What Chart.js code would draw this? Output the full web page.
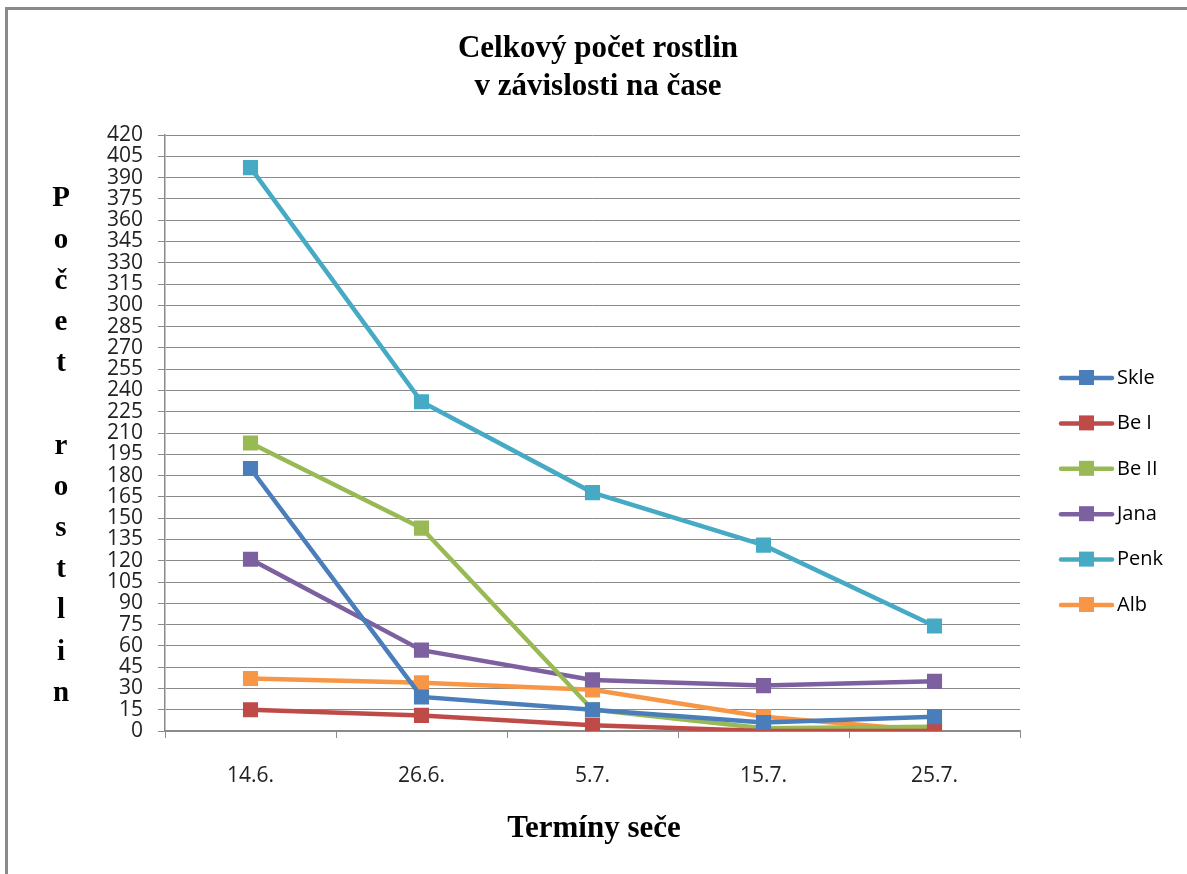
<!DOCTYPE html>
<html>
<head>
  <title>Celkový počet rostlin</title>
  <script src="https://cdn.jsdelivr.net/npm/chart.js"></script>
  <style>
    body { margin: 0; background: #fff; }
    #wrap { position: relative; width: 1187px; height: 874px; }
  </style>
</head>
<body>
  <div id="wrap"><canvas id="myChart" width="1187" height="874"></canvas></div>

  <script>
    // data
    const terms = ['14.6.', '26.6.', '5.7.', '15.7.', '25.7.'];
    const skle = [185, 24, 15, 6, 10];
    const be1 = [15, 11, 4, 0, 0];
    const be2 = [203, 143, 15, 2, 3];
    const jana = [121, 57, 36, 32, 35];
    const penk = [397, 232, 168, 131, 74];
    const alb = [37, 34, 29, 10, 0];
    const seriesNames = ['Skle', 'Be I', 'Be II', 'Jana', 'Penk', 'Alb'];
    const colors = ['#4A7EBB', '#BE4B48', '#98B954', '#7D60A0', '#46AAC5', '#F79646'];
    const yMax = 420;
    const yStep = 15;

    const allSeries = [skle, be1, be2, jana, penk, alb];
    const datasets = allSeries.map((vals, i) => ({
      label: seriesNames[i],
      data: vals,
      borderColor: colors[i],
      backgroundColor: colors[i],
      borderWidth: 4.5,
      pointStyle: 'rect',
      pointRadius: 7.5,
      pointHoverRadius: 7.5,
      tension: 0
    }));

    // frame, titles and legend drawn around the plot
    const decor = {
      id: 'decor',
      afterDraw(chart) {
        const ctx = chart.ctx;
        ctx.save();
        // outer frame (left + top only visible)
        ctx.strokeStyle = '#8a8a8a';
        ctx.lineWidth = 3;
        ctx.beginPath();
        ctx.moveTo(6.5, 874);
        ctx.lineTo(6.5, 8.5);
        ctx.lineTo(1187, 8.5);
        ctx.stroke();

        ctx.fillStyle = '#000';
        ctx.textAlign = 'center';
        ctx.textBaseline = 'middle';
        ctx.font = 'bold 31px "Liberation Serif"';
        ctx.fillText('Celkový počet rostlin', 598, 49);
        ctx.fillText('v závislosti na čase', 598, 87);

        ctx.fillText('Termíny seče', 594, 829);

        // vertical y axis title, one letter per row
        const letters = 'Počet rostlin'.split('');
        ctx.font = 'bold 29px "Liberation Serif"';
        letters.forEach((ch, i) => {
          ctx.fillText(ch, 61, 199 + i * 41.2);
        });

        // legend
        ctx.textAlign = 'left';
        ctx.font = '20px "Open Sans"';
        chart.data.datasets.forEach((ds, i) => {
          const y = 378 + i * 45.4;
          ctx.strokeStyle = ds.borderColor;
          ctx.lineWidth = 4.5;
          ctx.lineCap = 'round';
          ctx.beginPath();
          ctx.moveTo(1061, y);
          ctx.lineTo(1112, y);
          ctx.stroke();
          ctx.fillStyle = ds.borderColor;
          ctx.fillRect(1079, y - 8, 15, 15);
          ctx.fillStyle = '#000';
          ctx.fillText(ds.label, 1117, y);
        });
        ctx.restore();
      }
    };

    const ctx = document.getElementById('myChart').getContext('2d');
    const myChart = new Chart(ctx, {
      type: 'line',
      data: { labels: terms, datasets: datasets },
      options: {
        responsive: false,
        animation: false,
        layout: { padding: { left: 80, right: 167, top: 135, bottom: 83 } },
        plugins: { legend: { display: false }, tooltip: { enabled: false } },
        scales: {
          x: {
            offset: true,
            afterFit(scale) { scale.height = 60; },
            grid: {
              offset: true,
              drawOnChartArea: false,
              drawTicks: true,
              tickLength: 7,
              color: '#8a8a8a'
            },
            border: { color: '#8a8a8a', width: 1.5 },
            ticks: {
              color: '#222',
              padding: 25,
              font: { family: 'Open Sans', size: 21 }
            }
          },
          y: {
            min: 0,
            max: yMax,
            afterFit(scale) { scale.width = 85; },
            grid: {
              color: '#8a8a8a',
              tickLength: 7,
              lineWidth: 1
            },
            border: { color: '#8a8a8a', width: 1.5 },
            ticks: {
              stepSize: yStep,
              color: '#222',
              padding: 15,
              font: { family: 'Open Sans', size: 21 },
              autoSkip: false
            }
          }
        }
      },
      plugins: [decor]
    });
  </script>
</body>
</html>
